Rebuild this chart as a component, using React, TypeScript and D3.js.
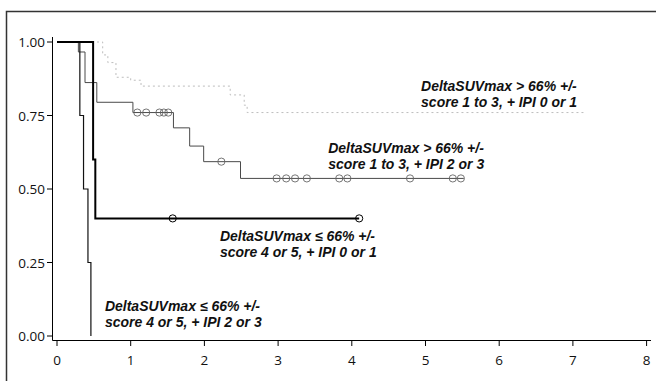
import React from "react";
import * as d3 from "d3";

// Kaplan-Meier step data (time in x-units, survival proportion)
const grpHighIpi01Times = [0, 0.62, 0.69, 0.8, 1.0, 1.14, 2.35, 2.54, 2.58];
const grpHighIpi01Surv = [1, 0.956, 0.93, 0.88, 0.87, 0.85, 0.82, 0.785, 0.76];
const grpHighIpi01End = 7.16;

const grpHighIpi23Times = [0, 0.29, 0.38, 0.54, 1.03, 1.58, 1.8, 1.99, 2.49];
const grpHighIpi23Surv = [1, 0.966, 0.862, 0.795, 0.76, 0.708, 0.646, 0.593, 0.536];
const grpHighIpi23End = 5.52;
const grpHighIpi23Censor = [1.09, 1.21, 1.39, 1.45, 1.51, 2.23, 2.98, 3.11, 3.23, 3.39, 3.83, 3.94, 4.79, 5.37, 5.48];

const grpLowIpi01Times = [0, 0.49, 0.52];
const grpLowIpi01Surv = [1, 0.6, 0.4];
const grpLowIpi01End = 4.1;
const grpLowIpi01Censor = [1.57, 4.1];

const grpLowIpi23Times = [0, 0.31, 0.36, 0.42, 0.46];
const grpLowIpi23Surv = [1, 0.75, 0.5, 0.25, 0];
const grpLowIpi23End = 0.46;

const xTicks = [0, 1, 2, 3, 4, 5, 6, 7, 8];
const yTicks = [0, 0.25, 0.5, 0.75, 1];

const labelLine1 = ["DeltaSUVmax > 66% +/-", "DeltaSUVmax > 66% +/-", "DeltaSUVmax \u2264 66% +/-", "DeltaSUVmax \u2264 66% +/-"];
const labelLine2 = ["score 1 to 3, + IPI 0 or 1", "score 1 to 3, + IPI 2 or 3", "score 4 or 5, + IPI 0 or 1", "score 4 or 5, + IPI 2 or 3"];
const labelT = [4.94, 3.68, 2.21, 0.65];
const labelS = [0.833, 0.622, 0.323, 0.085];

const x = d3.scaleLinear().domain([0, 8]).range([57, 646.6]);
const y = d3.scaleLinear().domain([0, 1]).range([336, 42]);

function stepPath(times: number[], surv: number[], end: number) {
  const pts: [number, number][] = times.map((t, i) => [t, surv[i]]);
  pts.push([end, surv[surv.length - 1]]);
  const line = d3
    .line<[number, number]>()
    .x((d) => x(d[0]))
    .y((d) => y(d[1]))
    .curve(d3.curveStepAfter);
  return line(pts) || "";
}

function survAt(times: number[], surv: number[], t: number) {
  let v = surv[0];
  for (let i = 0; i < times.length; i++) if (times[i] <= t) v = surv[i];
  return v;
}

export default function App() {
  const font = "'Open Sans', 'Noto Sans', sans-serif";
  const labelFont = "'Liberation Sans', Arial, sans-serif";
  return (
    <svg width={656} height={381} style={{ display: "block", position: "absolute", left: 0, top: 0 }}>
      <rect width={656} height={381} fill="#fff" />
      {/* frame */}
      <path d="M6.5,381 L6.5,11.5 L656,11.5" fill="none" stroke="#333" strokeWidth={1.5} />
      {/* y axis */}
      <line x1={52.5} x2={52.5} y1={37} y2={340.5} stroke="#000" strokeWidth={1} />
      {yTicks.map((v) => (
        <g key={v}>
          <line x1={47} x2={52.5} y1={y(v)} y2={y(v)} stroke="#000" />
          <text x={45} y={y(v) + 5} textAnchor="end" fontSize={13.5} fontFamily={font} fill="#111">
            {v.toFixed(2)}
          </text>
        </g>
      ))}
      {/* x axis */}
      <line x1={52.5} x2={651} y1={340.5} y2={340.5} stroke="#000" strokeWidth={1} />
      {xTicks.map((v) => (
        <g key={v}>
          <line x1={x(v)} x2={x(v)} y1={340.5} y2={346} stroke="#000" />
          <text x={x(v)} y={365} textAnchor="middle" fontSize={13.5} fontFamily={font} fill="#111">
            {v}
          </text>
        </g>
      ))}
      {/* curves */}
      <path
        d={stepPath(grpHighIpi01Times, grpHighIpi01Surv, grpHighIpi01End)}
        fill="none"
        stroke="#bdbdbd"
        strokeWidth={1}
        strokeDasharray="2,3"
      />
      <path
        d={stepPath(grpHighIpi23Times, grpHighIpi23Surv, grpHighIpi23End)}
        fill="none"
        stroke="#4a4a4a"
        strokeWidth={1}
      />
      {grpHighIpi23Censor.map((t, i) => (
        <circle key={i} cx={x(t)} cy={y(survAt(grpHighIpi23Times, grpHighIpi23Surv, t))} r={3.6} fill="none" stroke="#666" strokeWidth={0.9} />
      ))}
      <path
        d={stepPath(grpLowIpi23Times, grpLowIpi23Surv, grpLowIpi23End)}
        fill="none"
        stroke="#111"
        strokeWidth={1.2}
      />
      <path
        d={stepPath(grpLowIpi01Times, grpLowIpi01Surv, grpLowIpi01End)}
        fill="none"
        stroke="#000"
        strokeWidth={2}
      />
      {grpLowIpi01Censor.map((t, i) => (
        <circle key={i} cx={x(t)} cy={y(survAt(grpLowIpi01Times, grpLowIpi01Surv, t))} r={3.6} fill="none" stroke="#000" strokeWidth={1} />
      ))}
      {/* labels */}
      {labelLine1.map((l1, i) => (
        <g key={i} fontSize={14} fontFamily={labelFont} fontStyle="italic" fontWeight={700} fill="#111">
          <text x={x(labelT[i])} y={y(labelS[i])}>{l1}</text>
          <text x={x(labelT[i])} y={y(labelS[i]) + 16}>{labelLine2[i]}</text>
        </g>
      ))}
    </svg>
  );
}
